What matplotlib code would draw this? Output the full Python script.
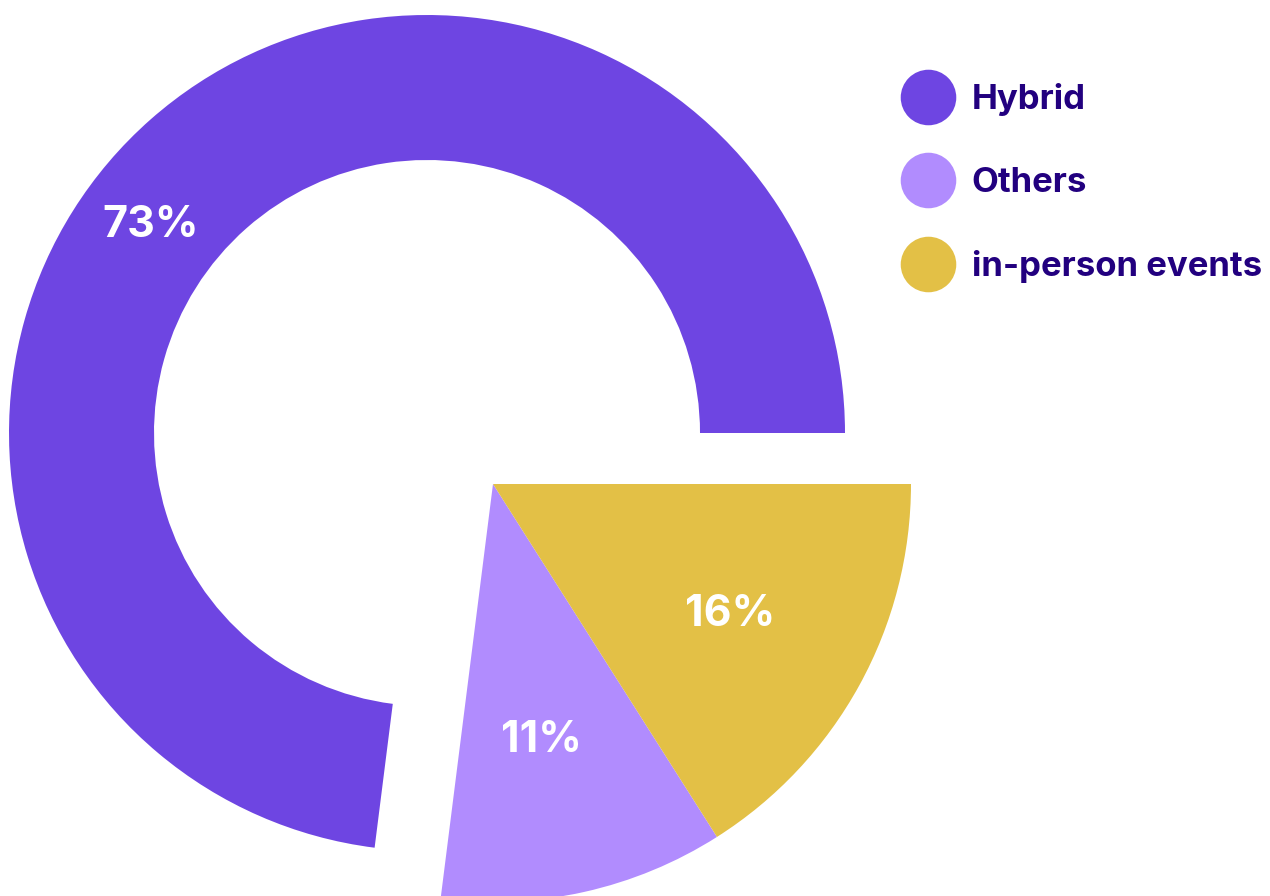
import numpy as np
import matplotlib
matplotlib.use("Agg")
import matplotlib.pyplot as plt
from matplotlib.lines import Line2D

categories = ["Hybrid", "Others", "in-person events"]
shares = [73, 11, 16]
colors = ["#6E45E2", "#B18CFE", "#E3C046"]
text_dark = "#22007F"

plt.rcParams["font.family"] = ["Inter", "DejaVu Sans"]

W, H = 1270, 896
fig = plt.figure(figsize=(W / 100, H / 100), dpi=100)
ax = fig.add_axes([0, 0, 1, 1])

R = 418
ring_center = (427, H - 433)
split_center = (493, H - 484)

# hybrid as a ring, the other two pulled out as a solid pie
ring, _ = ax.pie(shares, colors=[colors[0], "none", "none"], startangle=0,
                 counterclock=True, radius=R, center=ring_center,
                 wedgeprops=dict(width=145, linewidth=0), frame=True)
solid, _ = ax.pie(shares, colors=["none", colors[1], colors[2]], startangle=0,
                  counterclock=True, radius=R, center=split_center,
                  wedgeprops=dict(linewidth=0), frame=True)

ax.set_xlim(0, W)
ax.set_ylim(0, H)
ax.set_aspect("equal")
ax.axis("off")

lab_kw = dict(color="white", fontsize=31, fontweight="bold",
              ha="center", va="center")

# 73% sits in the upper-left part of the ring
a = np.deg2rad(143)
rm = R - 145 / 2
ax.text(ring_center[0] + rm * np.cos(a), ring_center[1] + rm * np.sin(a),
        f"{shares[0]}%", **lab_kw)

for w, v, ang_shift, rr in [(solid[1], shares[1], -2, 0.625), (solid[2], shares[2], 0, 0.647)]:
    mid = np.deg2rad((w.theta1 + w.theta2) / 2 + ang_shift)
    ax.text(split_center[0] + rr * R * np.cos(mid),
            split_center[1] + rr * R * np.sin(mid),
            f"{v}%", **lab_kw)

handles = [Line2D([], [], marker="o", linestyle="none", markersize=40,
                  markerfacecolor=c, markeredgewidth=0) for c in colors]
leg = ax.legend(handles, categories, loc="upper left",
                bbox_to_anchor=(900, H - 83), bbox_transform=ax.transData,
                frameon=False, borderpad=0, borderaxespad=0,
                handlelength=1.63, handletextpad=0.43, labelspacing=1.47,
                prop=dict(family=["Inter", "DejaVu Sans"], size=25, weight="bold"))
for t in leg.get_texts():
    t.set_color(text_dark)

fig.savefig("out.png", dpi=100)
